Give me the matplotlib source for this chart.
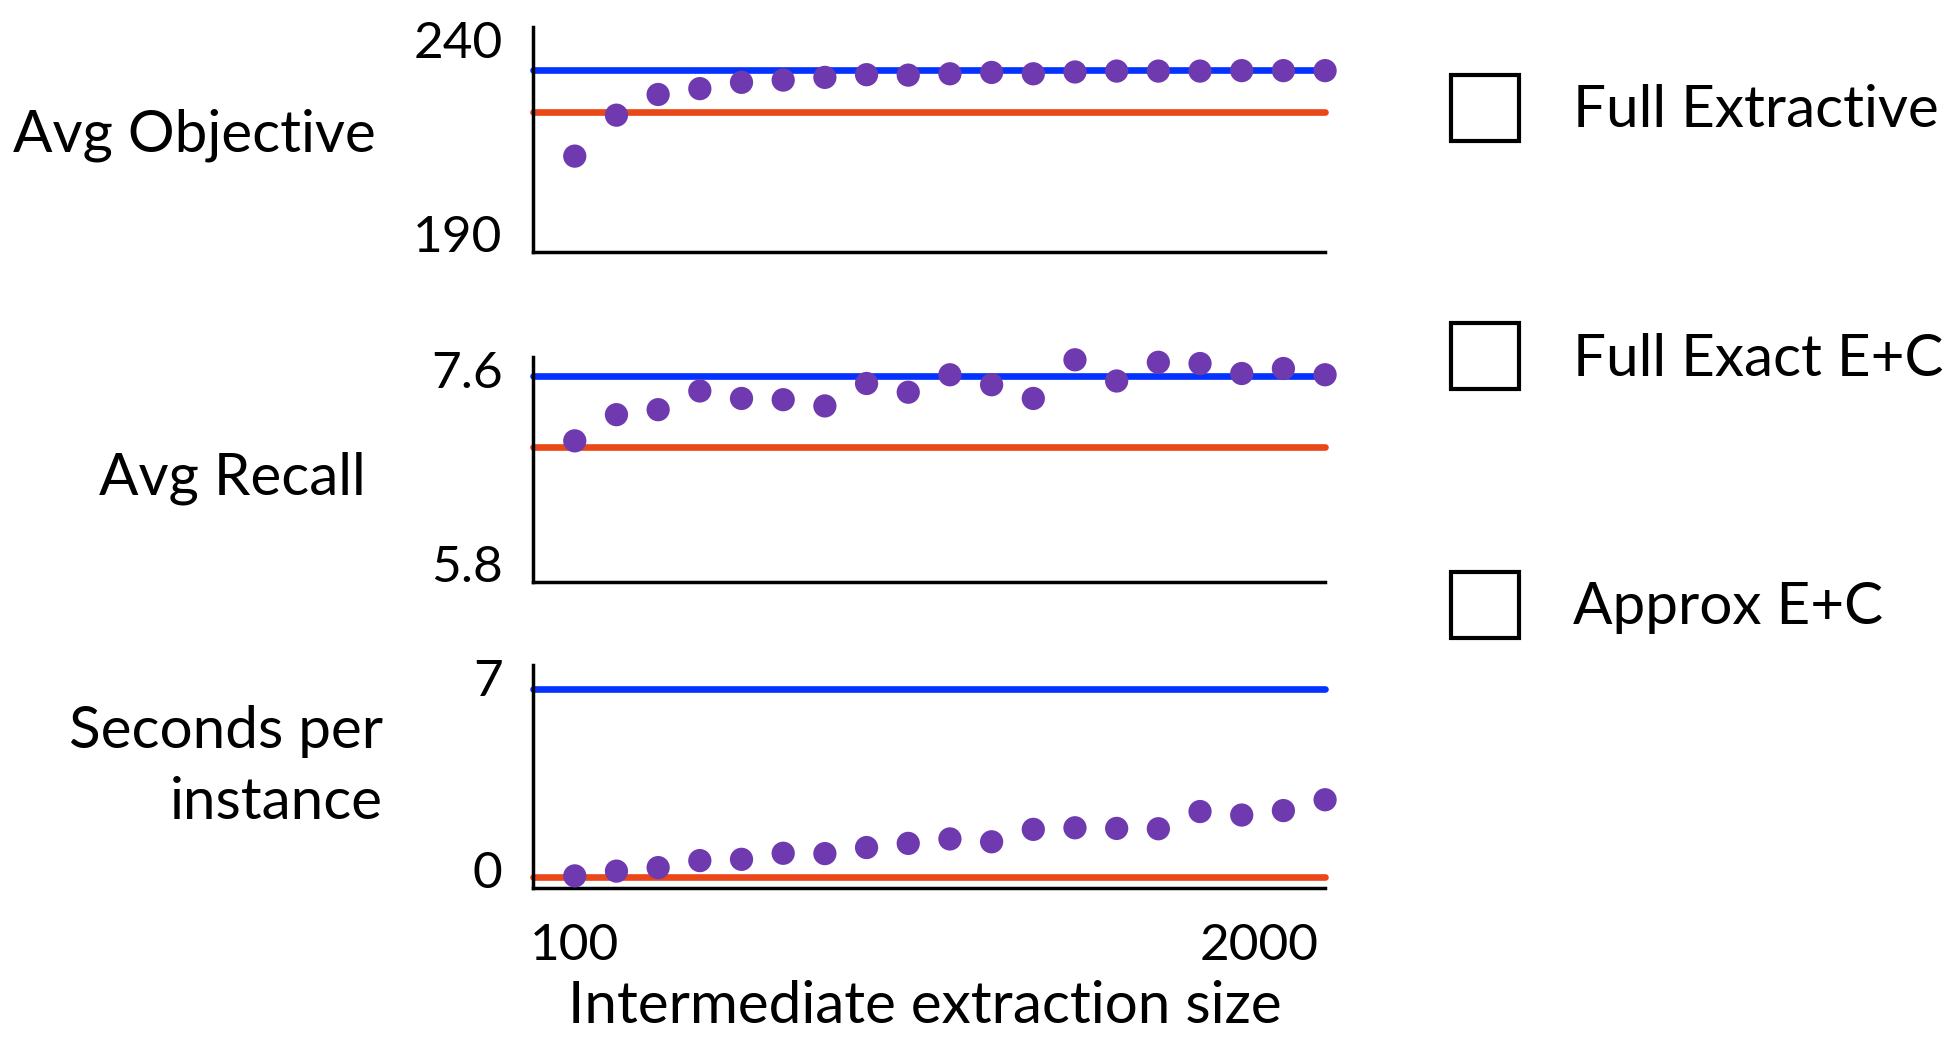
import matplotlib.pyplot as plt
from matplotlib.patches import Patch

# intermediate extraction sizes (x axis runs from 100 to 2000)
sizes = [200, 300, 400, 500, 600, 700, 800, 900, 1000, 1100,
         1200, 1300, 1400, 1500, 1600, 1700, 1800, 1900, 2000]

# avg objective
obj_full_extractive = 221.0
obj_full_exact = 230.4
obj_approx = [211.3, 220.4, 225.0, 226.3, 227.7, 228.2, 228.8, 229.4, 229.3, 229.6,
              229.9, 229.6, 230.0, 230.2, 230.2, 230.2, 230.3, 230.3, 230.3]

# avg recall
recall_full_extractive = 6.88
recall_full_exact = 7.45
recall_approx = [6.93, 7.14, 7.18, 7.33, 7.27, 7.26, 7.21, 7.39, 7.32, 7.46,
                 7.38, 7.27, 7.58, 7.41, 7.56, 7.55, 7.47, 7.51, 7.46]

# seconds per instance
time_full_extractive = 0.36
time_full_exact = 6.25
time_approx = [0.38, 0.53, 0.64, 0.86, 0.90, 1.09, 1.08, 1.27, 1.40, 1.54,
               1.45, 1.84, 1.89, 1.87, 1.86, 2.40, 2.29, 2.43, 2.77]

series_names = ["Full Extractive", "Full Exact E+C", "Approx E+C"]

BLUE = "#0433FF"
RED = "#EA4818"
PURPLE = "#6F3AB0"

TICK_FS = 37
LABEL_FS = 42

plt.rcParams['font.family'] = ['Lato', 'DejaVu Sans']

fig = plt.figure(figsize=(19.57, 10.42), dpi=100)

panels = [
    ([0.2724, 0.7582, 0.4047, 0.2159], obj_full_extractive, obj_full_exact, obj_approx, (190, 240), ("190", "240")),
    ([0.2724, 0.4417, 0.4047, 0.2154], recall_full_extractive, recall_full_exact, recall_approx, (5.8, 7.6), ("5.8", "7.6")),
    ([0.2724, 0.1478, 0.4047, 0.2140], time_full_extractive, time_full_exact, time_approx, (0, 7), ("0", "7")),
]

axes = []
for rect, extractive, exact, approx, ylim, ylabels in panels:
    ax = fig.add_axes(rect)
    ax.set_xlim(100, 2000)
    ax.set_ylim(*ylim)
    ax.spines[['top', 'right']].set_visible(False)
    ax.spines[['left', 'bottom']].set_linewidth(2.5)
    ax.set_xticks([])
    ax.set_yticks([])
    ax.axhline(exact, color=BLUE, lw=4.8, solid_capstyle='round', zorder=2, clip_on=False)
    ax.axhline(extractive, color=RED, lw=4.8, solid_capstyle='round', zorder=2, clip_on=False)
    ax.scatter(sizes, approx, s=280, color=PURPLE, edgecolors='none', zorder=3, clip_on=False)
    # min / max labels on the value axis
    ax.annotate(ylabels[1], xy=(0, ylim[1]), xycoords=('axes fraction', 'data'),
                xytext=(-22, -22), textcoords='offset points',
                ha='right', va='baseline', fontsize=TICK_FS)
    ax.annotate(ylabels[0], xy=(0, ylim[0]), xycoords=('axes fraction', 'data'),
                xytext=(-22, 0), textcoords='offset points',
                ha='right', va='baseline', fontsize=TICK_FS)
    axes.append(ax)

ax3 = axes[-1]
ax3.annotate("100", xy=(100, 0), xycoords=('data', 'axes fraction'),
             xytext=(-2, -52), textcoords='offset points', ha='left', va='baseline', fontsize=TICK_FS)
ax3.annotate("2000", xy=(2000, 0), xycoords=('data', 'axes fraction'),
             xytext=(-5, -52), textcoords='offset points', ha='right', va='baseline', fontsize=TICK_FS)

fig.text(0.4727, 0.0182, "Intermediate extraction size", ha='center', va='baseline', fontsize=LABEL_FS)

fig.text(0.1922, 0.8546, "Avg Objective", ha='right', va='baseline', fontsize=LABEL_FS)
fig.text(0.1870, 0.5250, "Avg Recall", ha='right', va='baseline', fontsize=LABEL_FS)
fig.text(0.1957, 0.2826, "Seconds per", ha='right', va='baseline', fontsize=LABEL_FS)
fig.text(0.1957, 0.2144, "instance", ha='right', va='baseline', fontsize=LABEL_FS)

handles = [Patch(facecolor='white', edgecolor='black', linewidth=3, label=name)
           for name in series_names]
fig.legend(handles=handles, loc='upper left', bbox_to_anchor=(0.7414, 0.928),
           frameon=False, fontsize=LABEL_FS, handlelength=1.17, handleheight=1.36,
           handletextpad=0.93, labelspacing=3.13, borderaxespad=0, borderpad=0)

fig.savefig('out.png', dpi=100)
